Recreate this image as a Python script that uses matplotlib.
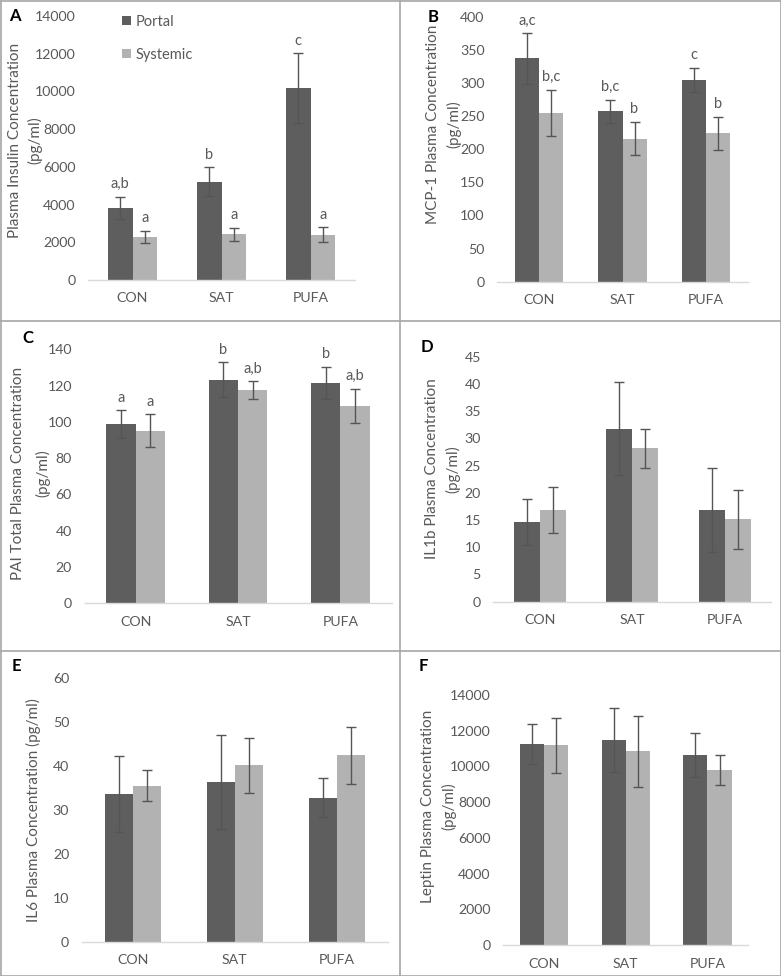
import numpy as np
import matplotlib
matplotlib.use("Agg")
import matplotlib.pyplot as plt
from matplotlib.lines import Line2D

plt.rcParams['font.family'] = ['Lato', 'DejaVu Sans']

W, H = 781, 976
groups = ['CON', 'SAT', 'PUFA']
series = ['Portal', 'Systemic']

# panel A: insulin
insulin_portal = [3830, 5210, 10170]
insulin_portal_err = [580, 770, 1850]
insulin_sys = [2270, 2420, 2390]
insulin_sys_err = [330, 350, 400]
insulin_letters = [['a,b', 'b', 'c'], ['a', 'a', 'a']]

# panel B: MCP-1
mcp_portal = [337, 257, 305]
mcp_portal_err = [38, 18, 18]
mcp_sys = [255, 216, 224]
mcp_sys_err = [35, 25, 25]
mcp_letters = [['a,c', 'b,c', 'c'], ['b,c', 'b', 'b']]

# panel C: PAI total
pai_portal = [98.7, 123.3, 121.6]
pai_portal_err = [7.7, 9.5, 8.8]
pai_sys = [95.2, 117.6, 108.9]
pai_sys_err = [9.0, 4.8, 9.4]
pai_letters = [['a', 'b', 'b'], ['a', 'a,b', 'a,b']]

# panel D: IL1b
il1b_portal = [14.7, 31.8, 16.8]
il1b_portal_err = [4.2, 8.6, 7.7]
il1b_sys = [16.8, 28.2, 15.1]
il1b_sys_err = [4.2, 3.6, 5.4]

# panel E: IL6
il6_portal = [33.7, 36.4, 32.8]
il6_portal_err = [8.7, 10.7, 4.5]
il6_sys = [35.5, 40.2, 42.5]
il6_sys_err = [3.5, 6.3, 6.5]

# panel F: leptin
leptin_portal = [11280, 11460, 10640]
leptin_portal_err = [1120, 1790, 1210]
leptin_sys = [11180, 10850, 9800]
leptin_sys_err = [1550, 2000, 860]

DARK = '#5e5e5e'
LIGHT = '#b2b2b2'
TXT = '#595959'

fig = plt.figure(figsize=(W / 100, H / 100), dpi=100)


def add_ax(x0, x1, ytop, ybot):
    return fig.add_axes([x0 / W, 1 - ybot / H, (x1 - x0) / W, (ybot - ytop) / H])


def draw(ax, portal, perr, sysv, serr, ymax, step, bw, letters=None):
    x = np.arange(len(groups))
    b1 = ax.bar(x - bw / 2, portal, bw, color=DARK, label=series[0])
    b2 = ax.bar(x + bw / 2, sysv, bw, color=LIGHT, label=series[1])
    ax.errorbar(x - bw / 2, portal, yerr=perr, fmt='none', ecolor='#555555',
                elinewidth=1, capsize=3.5, capthick=1)
    ax.errorbar(x + bw / 2, sysv, yerr=serr, fmt='none', ecolor='#555555',
                elinewidth=1, capsize=3.5, capthick=1)
    if letters is not None:
        for i in range(len(groups)):
            ax.annotate(letters[0][i], (x[i] - bw / 2, portal[i] + perr[i]),
                        xytext=(0, 4), textcoords='offset points',
                        ha='center', va='bottom', fontsize=10.5, color=TXT)
            ax.annotate(letters[1][i], (x[i] + bw / 2, sysv[i] + serr[i]),
                        xytext=(0, 4), textcoords='offset points',
                        ha='center', va='bottom', fontsize=10.5, color=TXT)
    ax.set_xlim(-0.5, 2.5)
    ax.set_ylim(0, ymax)
    ax.set_yticks(np.arange(0, ymax + step / 2, step))
    ax.set_xticks(x)
    ax.set_xticklabels(groups)
    for s in ['top', 'right', 'left']:
        ax.spines[s].set_visible(False)
    ax.spines['bottom'].set_color('#d9d9d9')
    ax.spines['bottom'].set_linewidth(1)
    ax.tick_params(axis='both', length=0, labelsize=10.2, labelcolor=TXT)
    ax.tick_params(axis='x', pad=9)
    ax.tick_params(axis='y', pad=9)
    return b1, b2


axA = add_ax(88, 355, 16, 280)
hA = draw(axA, insulin_portal, insulin_portal_err, insulin_sys, insulin_sys_err,
          14000, 2000, 0.275, insulin_letters)
axA.legend(handles=hA, loc='upper left', bbox_to_anchor=(0.08, 1.055),
           frameon=False, fontsize=10.5, labelcolor=TXT, handlelength=0.6,
           handleheight=0.6, handletextpad=0.3, labelspacing=1.3)

axB = add_ax(497, 748, 16.7, 281.7)
draw(axB, mcp_portal, mcp_portal_err, mcp_sys, mcp_sys_err,
     400, 50, 0.287, mcp_letters)

axC = add_ax(84.5, 391.5, 349.3, 603.3)
draw(axC, pai_portal, pai_portal_err, pai_sys, pai_sys_err,
     140, 20, 0.288, pai_letters)

axD = add_ax(493.3, 771, 356.7, 601.7)
draw(axD, il1b_portal, il1b_portal_err, il1b_sys, il1b_sys_err, 45, 5, 0.28)

axE = add_ax(81.7, 388, 678.3, 941.7)
draw(axE, il6_portal, il6_portal_err, il6_sys, il6_sys_err, 60, 10, 0.275)

axF = add_ax(503.3, 748.3, 695, 945)
draw(axF, leptin_portal, leptin_portal_err, leptin_sys, leptin_sys_err,
     14000, 2000, 0.296)

# y axis titles: (x of first line, x of second line, y centre, first, second)
ylabels = [
    (15, 35, 140, 'Plasma Insulin Concentration', '(pg/ml)'),
    (433, 454, 124, 'MCP-1 Plasma Concentration', '(pg/ml)'),
    (18, 43, 473, 'PAI Total Plasma Concentration', '(pg/ml)'),
    (432, 453, 469, 'IL1b Plasma Concentration', '(pg/ml)'),
    (33, None, 810, 'IL6 Plasma Concentration (pg/ml)', None),
    (428, 449, 806, 'Leptin Plasma Concentration', '(pg/ml)'),
]
for x1, x2, y, t1, t2 in ylabels:
    fig.text(x1 / W, 1 - y / H, t1, rotation=90, ha='center', va='center',
             fontsize=11, color=TXT)
    if t2:
        fig.text(x2 / W, 1 - y / H, t2, rotation=90, ha='center', va='center',
                 fontsize=11, color=TXT)

# panel letters
for x, y, t in [(15, 16, 'A'), (433, 17, 'B'), (28, 338, 'C'),
                (427, 347, 'D'), (16, 666, 'E'), (423, 666, 'F')]:
    fig.text(x / W, 1 - y / H, t, ha='center', va='center', fontsize=12,
             fontweight='bold', color='black')

# panel frame lines
bc = '#a6a6a6'
for xs, ys in [([0.5, 780.5], [0.5, 0.5]), ([0.5, 780.5], [975.5, 975.5]),
               ([0.5, 0.5], [0.5, 975.5]), ([780.5, 780.5], [0.5, 975.5]),
               ([400, 400], [0.5, 975.5]),
               ([0.5, 780.5], [321, 321]), ([0.5, 780.5], [651, 651])]:
    fig.add_artist(Line2D([x / W for x in xs], [1 - y / H for y in ys],
                          color=bc, lw=1.2))

fig.savefig('out.png', dpi=100)
